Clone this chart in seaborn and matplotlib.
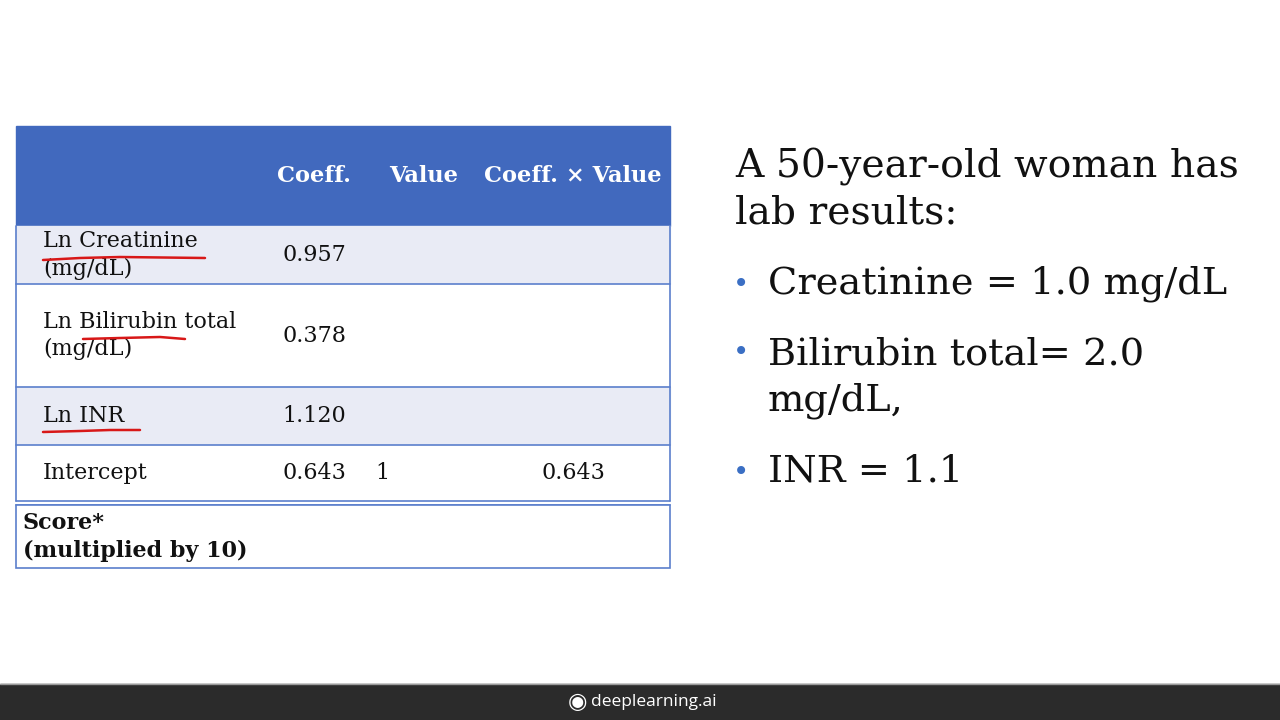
import matplotlib
matplotlib.use("Agg")
import matplotlib.pyplot as plt
import seaborn as sns

# table content
row_labels = ["Ln Creatinine\n(mg/dL)", "Ln Bilirubin total\n(mg/dL)", "Ln INR", "Intercept"]
coeffs = ["0.957", "0.378", "1.120", "0.643"]
values = ["", "", "", "1"]
products = ["", "", "", "0.643"]
headers = ["Coeff.", "Value", "Coeff. \u00d7 Value"]
score_label = "Score*\n(multiplied by 10)"

# slide text
title = "A 50-year-old woman has\nlab results:"
bullets = ["Creatinine = 1.0 mg/dL", "Bilirubin total= 2.0\nmg/dL,", "INR = 1.1"]

sns.set_theme(style="white")
plt.rcParams["font.family"] = ["DejaVu Serif"]

fig = plt.figure(figsize=(12.8, 7.2), dpi=100)
ax = fig.add_axes([0, 0, 1, 1])
ax.set_xlim(0, 1280)
ax.set_ylim(720, 0)
ax.axis("off")

blue = "#4169be"
line_blue = "#5b7fcc"
light = "#e9ebf5"
ink = "#111111"

# layout of the table
left, right = 16, 670
head_top, head_bot = 126, 226
row_edges = [226, 284, 387, 445, 501]
score_top, score_bot = 505, 568
col_x = [314, 424, 573]
fs = 16

ax.add_patch(plt.Rectangle((left, head_top), right - left, head_bot - head_top, color=blue, zorder=1))
for i, h in enumerate(headers):
    ax.text(col_x[i], 176, h, color="white", fontsize=16.2, fontweight="bold", ha="center", va="center")

for i, lab in enumerate(row_labels):
    top, bot = row_edges[i], row_edges[i + 1]
    mid = (top + bot) / 2
    fc = light if i % 2 == 0 else "white"
    ax.add_patch(plt.Rectangle((left, top), right - left, bot - top, color=fc, zorder=1))
    ax.text(43, mid, lab, fontsize=fs, ha="left", va="center", linespacing=1.3, color=ink)
    ax.text(col_x[0], mid, coeffs[i], fontsize=fs, ha="center", va="center", color=ink)
    ax.text(382, mid, values[i], fontsize=fs, ha="center", va="center", color=ink)
    ax.text(col_x[2], mid, products[i], fontsize=fs, ha="center", va="center", color=ink)
    ax.plot([left, right], [bot, bot], color=line_blue, lw=1.2, zorder=2)

ax.plot([left, right], [score_top, score_top], color=line_blue, lw=1.2, zorder=2)
ax.add_patch(plt.Rectangle((left, score_top), right - left, score_bot - score_top,
                           facecolor="white", edgecolor=line_blue, lw=1.2, zorder=2))
ax.text(23, 537, score_label, fontsize=fs, fontweight="bold", ha="left", va="center",
        linespacing=1.3, color=ink, zorder=3)
ax.plot([left, left], [head_bot, row_edges[-1]], color=line_blue, lw=1.2, zorder=2)
ax.plot([right, right], [head_bot, row_edges[-1]], color=line_blue, lw=1.2, zorder=2)

# red pen underlines
ax.plot([43, 80, 120, 205], [260, 258, 257, 258], color="#d81818", lw=1.8, zorder=4)
ax.plot([83, 120, 160, 185], [339, 338, 337, 339], color="#d81818", lw=1.8, zorder=4)
ax.plot([43, 80, 110, 140], [432, 431, 430, 430], color="#d81818", lw=1.8, zorder=4)

# right side text
ax.text(735, 190, title, fontsize=28.3, ha="left", va="center", linespacing=1.3, color=ink)
bullet_y = [284, 378, 472]
for y, b in zip(bullet_y, bullets):
    first = y if "\n" not in b else y - 26
    ax.text(741, first + 2, "\u2022", fontsize=20, ha="center", va="center", color="#3b6fc4")
    ax.text(768, y, b, fontsize=27.6, ha="left", va="center", linespacing=1.35, color=ink)

# footer bar
ax.add_patch(plt.Rectangle((0, 684), 1280, 36, color="#2b2b2b", zorder=1))
ax.plot([0, 1280], [684, 684], color="#9a9a9a", lw=1)
ax.text(577, 702, "\u25c9", fontsize=16, ha="center", va="center", color="white", family="DejaVu Sans")
ax.text(591, 702, "deeplearning.ai", fontsize=12.5, ha="left", va="center", color="white",
        family="Open Sans")

fig.savefig("out.png", dpi=100)
